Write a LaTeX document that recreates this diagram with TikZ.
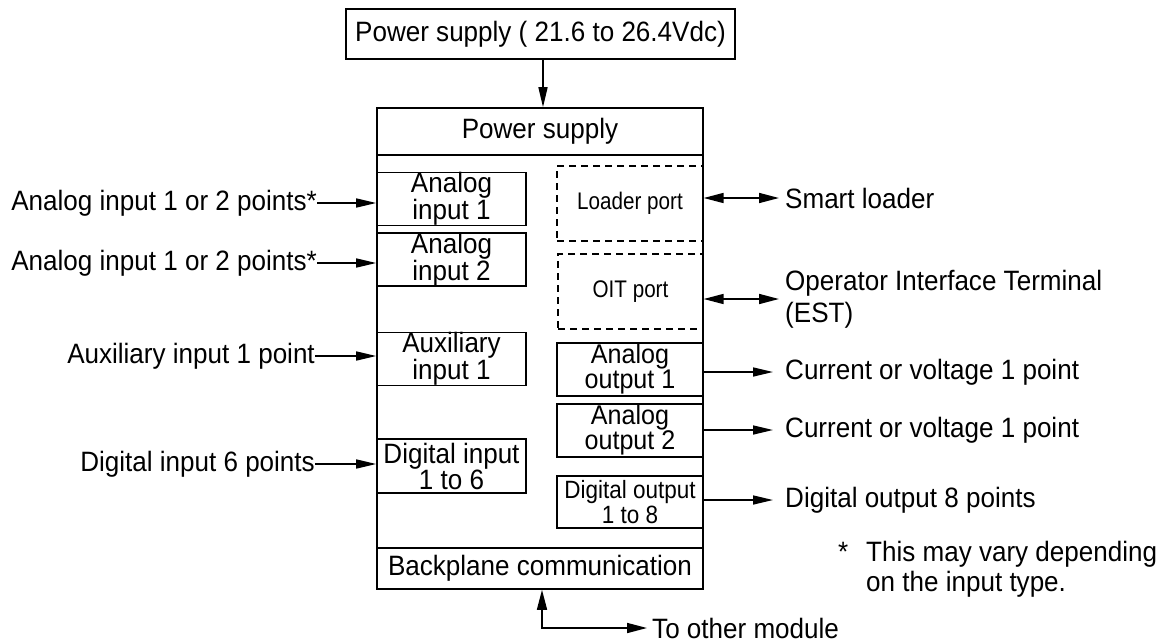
\documentclass[tikz,border=0pt]{standalone}
\usepackage{fontspec}
\setmainfont{Liberation Sans}[FakeStretch=0.93]
\newfontfamily\narrowfont[FakeStretch=0.86]{Liberation Sans}
\newfontfamily\midfont[FakeStretch=0.9]{Liberation Sans}
\usetikzlibrary{arrows.meta}
\begin{document}
\begin{tikzpicture}[x=1pt,y=-1pt,
  every node/.style={font=\fontsize{28}{26}\selectfont},
  box/.style={draw, line width=1.6pt, inner sep=0pt, align=center},
  dbox/.style={draw, line width=1.3pt, dash pattern=on 7pt off 5pt, inner sep=0pt, align=center,
    font=\narrowfont\fontsize{24}{24}\selectfont},
  lab/.style={inner sep=0pt},
  arr/.style={line width=1.6pt, -{Triangle[length=20pt,width=9pt]}},
  darr/.style={line width=1.6pt, {Triangle[length=20pt,width=10pt]}-{Triangle[length=20pt,width=10pt]}}
]
\useasboundingbox[fill=white] (0,0) rectangle (1167,643);

% supply
\node[box, minimum width=389pt, minimum height=50pt] (src) at (540.5,34) {Power supply ( 21.6 to 26.4Vdc)};

% main module
\node[box, minimum width=326pt, minimum height=481pt] (main) at (540,348.5) {};
\node[box, minimum width=326pt, minimum height=47pt] (psu) at (540,131.5) {Power supply};
\node[box, minimum width=326pt, minimum height=41pt] (bp) at (540,568.5) {Backplane communication};

\draw[arr] ([xshift=2.5pt]src.south) -- ([xshift=2.5pt]src.south |- psu.north);

% inner blocks
\node[box, minimum width=149pt, minimum height=52pt] (ai1) at (451.5,199) {Analog\\input 1};
\node[box, minimum width=149pt, minimum height=53pt] (ai2) at (451.5,259.5) {Analog\\input 2};
\node[box, minimum width=149pt, minimum height=52pt] (aux) at (451.5,359) {Auxiliary\\input 1};
\node[box, minimum width=149pt, minimum height=54pt] (di) at (451.5,466) {Digital input\\1 to 6};

\node[dbox, minimum width=146pt, minimum height=75pt] (loader) at (630,203.5) {Loader port};
\node[dbox, minimum width=145pt, minimum height=75pt] (oit) at (630.5,291.5) {OIT port};
\node[box, minimum width=146pt, minimum height=53pt, font=\fontsize{27}{25}\selectfont] (ao1) at (630,369.5) {Analog\\output 1};
\node[box, minimum width=146pt, minimum height=53pt, font=\fontsize{27}{25}\selectfont] (ao2) at (630,430.5) {Analog\\output 2};
\node[box, minimum width=146pt, minimum height=52pt, font=\midfont\fontsize{25}{25}\selectfont] (dout) at (630,502) {Digital output\\1 to 8};

% left labels
\node[lab, anchor=east] (la1) at (317,203) {Analog input 1 or 2 points*};
\node[lab, anchor=east] (la2) at (317,263) {Analog input 1 or 2 points*};
\node[lab, anchor=east] (la3) at (315,356) {Auxiliary input 1 point};
\node[lab, anchor=east] (la4) at (315,464) {Digital input 6 points};
\draw[arr] (la1.east) -- (la1.east -| ai1.west);
\draw[arr] (la2.east) -- (la2.east -| ai2.west);
\draw[arr] (la3.east) -- (la3.east -| aux.west);
\draw[arr] (la4.east) -- (la4.east -| di.west);

% right labels
\node[lab, anchor=west] (sl) at (785,198) {Smart loader};
\node[lab, anchor=west, align=left, font=\fontsize{28}{32}\selectfont] (oitl) at (785,299) {Operator Interface Terminal\\(EST)};
\node[lab, anchor=west] (c1) at (785,372) {Current or voltage 1 point};
\node[lab, anchor=west] (c2) at (785,430) {Current or voltage 1 point};
\node[lab, anchor=west] (d8) at (785,500) {Digital output 8 points};
\draw[darr] (loader.east |- sl.west) -- ([xshift=-6pt]sl.west);
\draw[darr] (oit.east |- oitl.west) -- ([xshift=-6pt]oitl.west);
\draw[arr] (ao1.east |- c1.west) -- ([xshift=-12pt]c1.west);
\draw[arr] (ao2.east |- c2.west) -- ([xshift=-12pt]c2.west);
\draw[arr] (dout.east |- d8.west) -- ([xshift=-12pt]d8.west);

% backplane link
\coordinate (bpx) at (542,0);
\node[lab, anchor=west] (tom) at (652,628) {To other module};
\draw[darr] (bp.south -| bpx) |- ([xshift=-5pt]tom.west);

% footnote
\node[lab, anchor=west] (star) at (838,552) {*};
\node[lab, anchor=north west, align=left, font=\fontsize{28}{30}\selectfont] (note) at (866,541) {This may vary depending\\on the input type.};
\end{tikzpicture}
\end{document}
